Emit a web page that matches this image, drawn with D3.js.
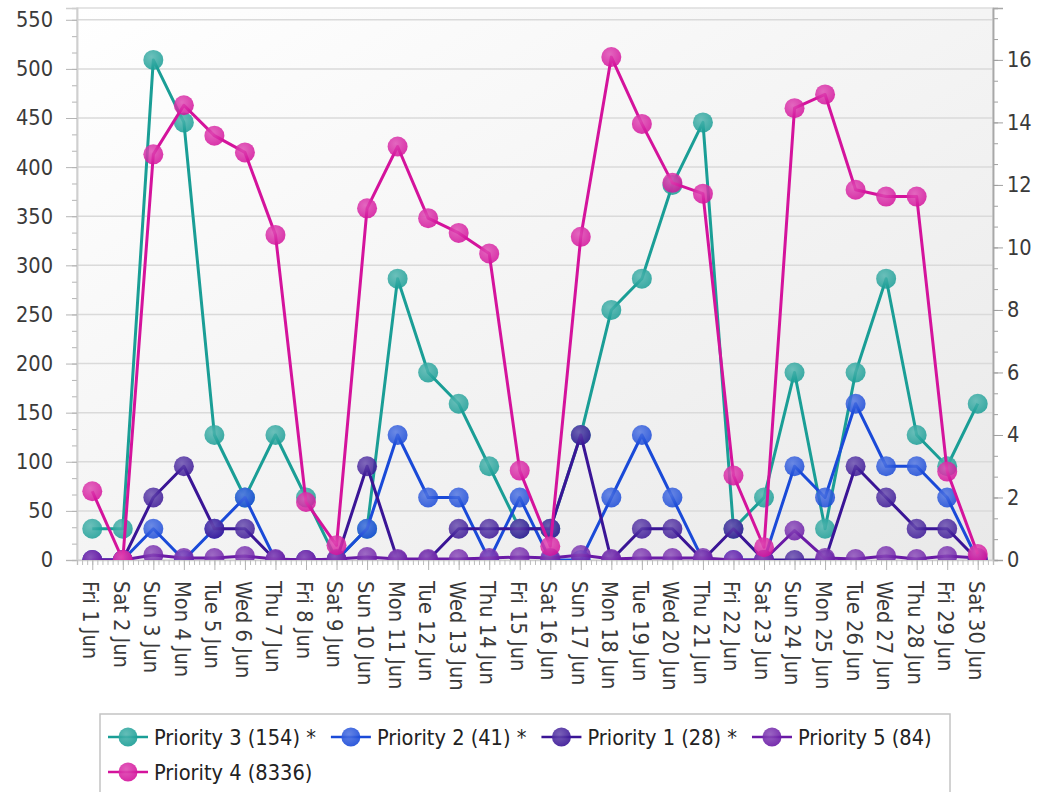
<!DOCTYPE html>
<html>
<head>
<meta charset="utf-8">
<script src="https://cdn.jsdelivr.net/npm/d3@7"></script>
<style>
  html, body { margin: 0; padding: 0; background: #ffffff; }
  svg { display: block; }
  text { font-family: "DejaVu Sans Condensed", "DejaVu Sans", sans-serif; font-stretch: condensed; }
</style>
</head>
<body>
<svg id="chart" width="1041" height="792"></svg>
<script>
// ---- data ----
const categories = ["Fri 1 Jun","Sat 2 Jun","Sun 3 Jun","Mon 4 Jun","Tue 5 Jun","Wed 6 Jun","Thu 7 Jun","Fri 8 Jun","Sat 9 Jun","Sun 10 Jun","Mon 11 Jun","Tue 12 Jun","Wed 13 Jun","Thu 14 Jun","Fri 15 Jun","Sat 16 Jun","Sun 17 Jun","Mon 18 Jun","Tue 19 Jun","Wed 20 Jun","Thu 21 Jun","Fri 22 Jun","Sat 23 Jun","Sun 24 Jun","Mon 25 Jun","Tue 26 Jun","Wed 27 Jun","Thu 28 Jun","Fri 29 Jun","Sat 30 Jun"];

// right axis series (starred)
const priority3 = [1,1,16,14,4,2,4,2,0,1,9,6,5,3,1,1,4,8,9,12,14,1,2,6,1,6,9,4,3,5];
const priority2 = [0,0,1,0,1,2,0,0,0,1,4,2,2,0,2,0,0,2,4,2,0,0,0,3,2,5,3,3,2,0];
const priority1 = [0,0,2,3,1,1,0,0,0,3,0,0,1,1,1,1,4,0,1,1,0,1,0,0,0,3,2,1,1,0];
// left axis series
const priority5 = [0,0,5,2,2,4,1,0,1,3,1,1,1,2,3,2,5,1,2,2,2,0,0,30,2,1,4,1,4,2];
const priority4 = [70,0,413,463,432,415,331,59,15,358,421,348,333,312,91,14,329,512,444,384,373,86,13,460,474,377,370,370,90,6];

const seriesNames = ["Priority 3 (154) *","Priority 2 (41) *","Priority 1 (28) *","Priority 5 (84)","Priority 4 (8336)"];
const seriesColors = ["#1a9e96","#1a4ad8","#3a1596","#6a1aa6","#d4139c"];
const seriesAxis = ["right","right","right","left","left"];
const seriesValues = [priority3, priority2, priority1, priority5, priority4];

const leftTicks = [0,50,100,150,200,250,300,350,400,450,500,550];
const rightTicks = [0,2,4,6,8,10,12,14,16];

// ---- layout ----
const FONT = "21.6px";
const svg = d3.select("#chart");
const plot = {left: 77, right: 993, top: 8, bottom: 560};

const x = d3.scalePoint().domain(categories).range([plot.left, plot.right]).padding(0.5);
const yL = d3.scaleLinear().domain([0, 562]).range([plot.bottom, plot.top]);
const yR = d3.scaleLinear().domain([0, 17.66]).range([plot.bottom, plot.top]);

const defs = svg.append("defs");
const bg = defs.append("linearGradient").attr("id","bgGrad")
  .attr("x1","0%").attr("y1","0%").attr("x2","100%").attr("y2","100%");
bg.append("stop").attr("offset","0%").attr("stop-color","#ffffff");
bg.append("stop").attr("offset","100%").attr("stop-color","#e9e9e9");

defs.append("clipPath").attr("id","plotClip").append("rect")
  .attr("x", plot.left).attr("y", plot.top)
  .attr("width", plot.right - plot.left).attr("height", plot.bottom - plot.top);

seriesColors.forEach((c, i) => {
  const g = defs.append("radialGradient").attr("id","mk"+i)
    .attr("cx","40%").attr("cy","35%").attr("r","65%");
  g.append("stop").attr("offset","0%").attr("stop-color", d3.interpolateRgb(c, "#ffffff")(0.25));
  g.append("stop").attr("offset","100%").attr("stop-color", c);
});

// plot background
svg.append("rect")
  .attr("x", plot.left).attr("y", plot.top)
  .attr("width", plot.right - plot.left).attr("height", plot.bottom - plot.top)
  .attr("fill","url(#bgGrad)")
  .attr("stroke","#dddddd").attr("stroke-width",1.5);

// gridlines
svg.append("g").selectAll("line").data(leftTicks.filter(t => t > 0)).join("line")
  .attr("x1", plot.left).attr("x2", plot.right)
  .attr("y1", d => yL(d)).attr("y2", d => yL(d))
  .attr("stroke","#dadada").attr("stroke-width",1.5);

// left axis
const leftMinor = d3.range(0, 562, 50/3);
const gL = svg.append("g").attr("transform", `translate(${plot.left},0)`);
gL.call(d3.axisLeft(yL).tickValues(leftMinor).tickSize(5).tickFormat(""));
gL.append("g").call(d3.axisLeft(yL).tickValues(leftTicks).tickSize(11).tickPadding(13).tickFormat(d3.format("d")));
gL.selectAll("path.domain").attr("stroke","#cfcfcf").attr("stroke-width",1.5);
gL.selectAll(".tick line").attr("stroke","#b5b5b5");
gL.selectAll("text").attr("fill","#3a3a3a").style("font-size",FONT).style("font-family",null);

// right axis
const rightMinor = d3.range(0, 17.66, 2/3);
const gR = svg.append("g").attr("transform", `translate(${plot.right},0)`);
gR.call(d3.axisRight(yR).tickValues(rightMinor).tickSize(5).tickFormat(""));
gR.append("g").call(d3.axisRight(yR).tickValues(rightTicks).tickSize(10).tickPadding(4).tickFormat(d3.format("d")));
gR.selectAll("path.domain").attr("stroke","#a8a8a8").attr("stroke-width",1.5);
gR.selectAll(".tick line").attr("stroke","#a0a0a0");
gR.selectAll("text").attr("fill","#3a3a3a").style("font-size",FONT).style("font-family",null);

// bottom axis with minor ticks
const gB = svg.append("g").attr("transform", `translate(0,${plot.bottom})`);
const step = x.step();
const minorX = [];
for (let i = 0; i <= categories.length * 6; i++) minorX.push(plot.left + i * step / 6);
const xLin = d3.scaleLinear().domain([plot.left, plot.right]).range([plot.left, plot.right]);
gB.call(d3.axisBottom(xLin).tickValues(minorX).tickSize(5).tickFormat(""));
gB.selectAll("path.domain").attr("stroke","#cfcfcf").attr("stroke-width",1.5);
gB.selectAll(".tick line").attr("stroke","#bdbdbd");
const gB2 = svg.append("g").attr("transform", `translate(0,${plot.bottom})`);
gB2.call(d3.axisBottom(x).tickSize(10).tickPadding(0));
gB2.select("path.domain").remove();
gB2.selectAll(".tick line").attr("stroke","#b5b5b5");
gB2.selectAll(".tick text")
  .attr("fill","#3a3a3a")
  .style("font-size",FONT).style("font-family",null)
  .attr("text-anchor","start")
  .attr("transform","translate(-2,21) rotate(90)")
  .attr("x", 0).attr("y", 0).attr("dy","0.35em");

// series
const plotG = svg.append("g").attr("clip-path","url(#plotClip)");
seriesValues.forEach((vals, i) => {
  const y = seriesAxis[i] === "left" ? yL : yR;
  const line = d3.line().x((d, j) => x(categories[j])).y(d => y(d));
  const g = plotG.append("g");
  g.append("path").datum(vals).attr("d", line)
    .attr("fill","none").attr("stroke", seriesColors[i]).attr("stroke-width", 3)
    .attr("stroke-linejoin","round");
  g.selectAll("circle").data(vals).join("circle")
    .attr("cx", (d, j) => x(categories[j])).attr("cy", d => y(d)).attr("r", 10)
    .attr("fill", `url(#mk${i})`).attr("fill-opacity", 0.85);
});

// legend
const legend = svg.append("g");
legend.append("rect").attr("x", 100).attr("y", 714).attr("width", 850).attr("height", 90)
  .attr("fill","#ffffff").attr("stroke","#c4c4c4").attr("stroke-width",1.5);
let lx = 108, ly = 737;
seriesNames.forEach((name, i) => {
  const item = legend.append("g");
  const t = item.append("text").text(name).attr("fill","#222")
    .style("font-size",FONT).attr("dy","0.35em");
  const w = t.node().getComputedTextLength();
  const total = 40 + 6 + w;
  if (lx + total > 945) { lx = 108; ly += 35; }
  item.attr("transform", `translate(${lx},${ly})`);
  item.insert("line","text").attr("x1", 0).attr("x2", 40).attr("y1", 0).attr("y2", 0)
    .attr("stroke", seriesColors[i]).attr("stroke-width", 2.5);
  item.insert("circle","text").attr("cx", 20).attr("cy", 0).attr("r", 9.5)
    .attr("fill", `url(#mk${i})`).attr("fill-opacity", 0.9);
  t.attr("x", 46);
  lx += total + 15;
});
</script>
</body>
</html>
